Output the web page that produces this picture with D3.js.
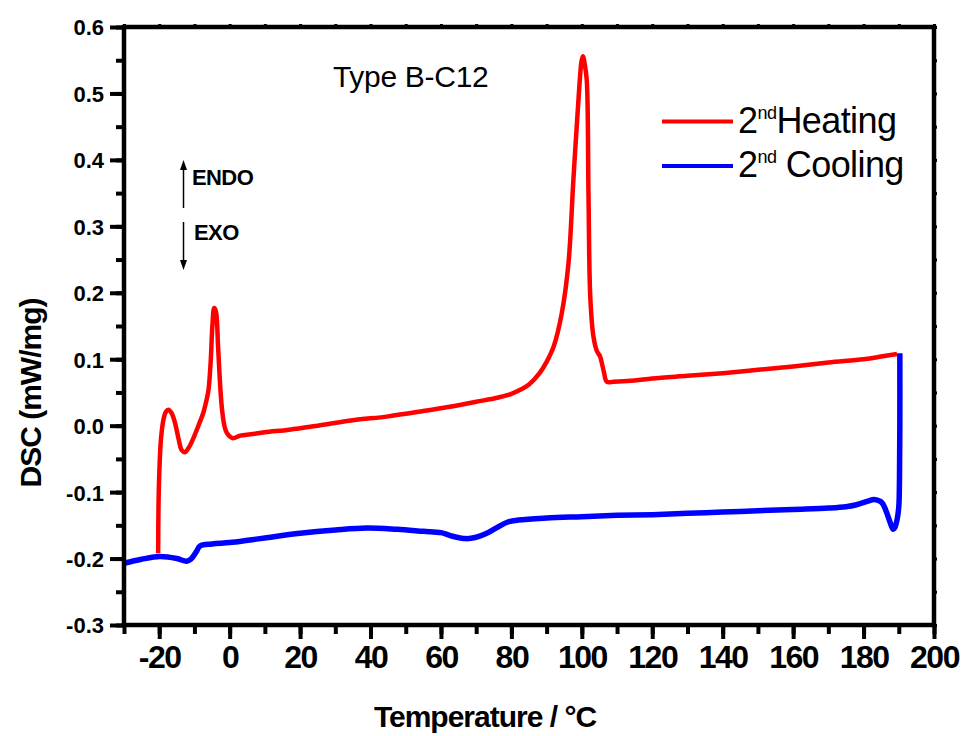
<!DOCTYPE html>
<html><head><meta charset="utf-8">
<script src="https://cdn.jsdelivr.net/npm/d3@7"></script>
<style>
html,body{margin:0;padding:0;background:#fff;}
svg{display:block;}
text{font-family:"Liberation Sans",Arial,sans-serif;}
</style></head>
<body>
<svg id="chart" width="965" height="736"></svg>
<script>
// ---- data ----
const xTicks = [-20, 0, 20, 40, 60, 80, 100, 120, 140, 160, 180, 200];
const xTickLabels = ["-20", "0", "20", "40", "60", "80", "100", "120", "140", "160", "180", "200"];
const yTicks = [-0.3, -0.2, -0.1, 0.0, 0.1, 0.2, 0.3, 0.4, 0.5, 0.6];
const yTickLabels = ["-0.3", "-0.2", "-0.1", "0.0", "0.1", "0.2", "0.3", "0.4", "0.5", "0.6"];
const seriesNames = ["Heating", "Cooling"];
const seriesColors = ["#ff0000", "#0000ff"];

// 2nd Heating: [temperature °C, DSC mW/mg]
const heating = [
  [-20.3,-0.192],[-20.2,-0.12],[-19.9,-0.06],[-19.5,-0.02],[-18.8,0.009],[-18.1,0.021],[-17.4,0.024],
  [-16.5,0.019],[-15.5,0.004],[-14.5,-0.02],[-13.6,-0.037],[-12.7,-0.040],[-11.5,-0.032],[-10,-0.015],
  [-8.5,0.005],[-7.5,0.019],[-6.5,0.040],[-6.0,0.054],[-5.4,0.095],[-4.9,0.150],[-4.4,0.177],[-3.9,0.172],
  [-3.3,0.12],[-2.8,0.07],[-2.25,0.029],[-1.5,0.000],[-0.8,-0.011],[0.2,-0.017],[1.0,-0.019],[3,-0.015],
  [6,-0.013],[10,-0.010],[17,-0.006],[25,0.000],[35,0.008],[45,0.014],[55,0.022],[62,0.028],[70,0.036],
  [76,0.042],[80,0.048],[82.5,0.054],[85,0.062],[88,0.079],[90,0.096],[92,0.119],[94.3,0.169],[96.2,0.244],
  [97.6,0.37],[99.1,0.495],[99.9,0.548],[100.3,0.556],[100.8,0.545],[101.4,0.52],[101.9,0.345],[102.4,0.194],
  [103.3,0.134],[104.3,0.112],[105.2,0.104],[105.7,0.094],[106.3,0.08],[107.1,0.066],[109,0.066],[115,0.068],
  [120,0.071],[130,0.075],[140,0.079],[150,0.084],[160,0.089],[170,0.095],[180,0.100],[185,0.104],[189.5,0.108]
];

// 2nd Cooling: [temperature °C, DSC mW/mg] in acquisition order (190 -> -30)
const cooling = [
  [190.3,0.109],[190.3,0.0],[190.2,-0.08],[190.0,-0.122],[189.5,-0.142],[188.9,-0.153],[188.4,-0.156],
  [187.5,-0.145],[186.5,-0.130],[185.5,-0.118],[184.8,-0.114],[183,-0.111],[181,-0.114],[178,-0.119],
  [175,-0.122],[170,-0.124],[160,-0.126],[150,-0.128],[140,-0.130],[130,-0.132],[120,-0.134],[110,-0.135],
  [100,-0.137],[90,-0.139],[82,-0.142],[79,-0.145],[76,-0.153],[73,-0.162],[70,-0.168],[67,-0.170],
  [63,-0.166],[60,-0.161],[55,-0.159],[47.5,-0.156],[39,-0.154],[30,-0.157],[20,-0.162],[10,-0.169],
  [5.8,-0.172],[0,-0.176],[-5,-0.178],[-8.4,-0.181],[-9.5,-0.190],[-11,-0.201],[-12.2,-0.204],[-15,-0.200],
  [-19.8,-0.197],[-25,-0.201],[-30,-0.207]
];

// ---- layout ----
const svg = d3.select("#chart");
const L = 124, T = 27, W = 810, H = 598;
const x = d3.scaleLinear().domain([-30, 200]).range([L, L + W]);
const y = d3.scaleLinear().domain([-0.3, 0.6]).range([T + H, T]);

const xMinor = d3.range(-30, 201, 10);
const yMinor = d3.range(-0.3, 0.6001, 0.05).map(v => +v.toFixed(3));

const g = svg.append("g");

// curves
const line = d3.line().x(d => x(d[0])).y(d => y(d[1])).curve(d3.curveCatmullRom.alpha(0.5));
g.append("path").datum(heating).attr("d", line)
  .attr("fill", "none").attr("stroke", seriesColors[0]).attr("stroke-width", 4.5).attr("stroke-linejoin", "round");
g.append("path").datum(cooling).attr("d", line)
  .attr("fill", "none").attr("stroke", seriesColors[1]).attr("stroke-width", 5.5).attr("stroke-linejoin", "round");

// axes
const axStyle = sel => { sel.select(".domain").remove(); sel.selectAll("line").attr("stroke", "#000").attr("stroke-width", 4); };

// bottom minor
svg.append("g").attr("transform", `translate(0,${T+H})`)
  .call(d3.axisBottom(x).tickValues(xMinor).tickSize(9).tickFormat(""))
  .call(axStyle);
// bottom major
const bx = svg.append("g").attr("transform", `translate(0,${T+H})`)
  .call(d3.axisBottom(x).tickValues(xTicks).tickSize(14).tickPadding(6).tickFormat((d, i) => xTickLabels[i]))
  .call(axStyle);
bx.selectAll("text").attr("font-size", 32).attr("font-weight", "bold").attr("fill", "#000")
  .attr("letter-spacing", "-1.5px").attr("dy", "0.72em");

// left minor
svg.append("g").attr("transform", `translate(${L},0)`)
  .call(d3.axisLeft(y).tickValues(yMinor).tickSize(8).tickFormat(""))
  .call(axStyle);
const ly = svg.append("g").attr("transform", `translate(${L},0)`)
  .call(d3.axisLeft(y).tickValues(yTicks).tickSize(14).tickPadding(6).tickFormat((d, i) => yTickLabels[i]))
  .call(axStyle);
ly.selectAll("text").attr("font-size", 22).attr("font-weight", "bold").attr("fill", "#000").attr("dy", "0.36em");

// top & right small ticks
svg.append("g").attr("transform", `translate(0,${T})`)
  .call(d3.axisTop(x).tickValues(xMinor).tickSize(3).tickFormat(""))
  .call(axStyle).selectAll("line").attr("stroke-width", 3);
svg.append("g").attr("transform", `translate(${L+W},0)`)
  .call(d3.axisRight(y).tickValues(yMinor).tickSize(3).tickFormat(""))
  .call(axStyle).selectAll("line").attr("stroke-width", 3);

// frame
svg.append("rect").attr("x", L).attr("y", T).attr("width", W).attr("height", H)
  .attr("fill", "none").attr("stroke", "#000").attr("stroke-width", 4.5);

// axis titles
svg.append("text").attr("x", 485).attr("y", 727).attr("text-anchor", "middle")
  .attr("font-size", 30).attr("font-weight", "bold").attr("letter-spacing", "-1px").text("Temperature / °C");
svg.append("text").attr("transform", "translate(41,393) rotate(-90)").attr("text-anchor", "middle")
  .attr("font-size", 30).attr("font-weight", "bold").attr("letter-spacing", "-1px").text("DSC (mW/mg)");

// annotation
svg.append("text").attr("x", 333).attr("y", 87).attr("font-size", 30).attr("letter-spacing", "-0.3px").text("Type B-C12");

// ENDO / EXO arrows
const ax = 183.5;
svg.append("line").attr("x1", ax).attr("x2", ax).attr("y1", 208).attr("y2", 168).attr("stroke", "#000").attr("stroke-width", 1.5);
svg.append("path").attr("d", `M${ax-3.5},${170} L${ax},${160} L${ax+3.5},${170} Z`).attr("fill", "#000");
svg.append("line").attr("x1", ax).attr("x2", ax).attr("y1", 222).attr("y2", 262).attr("stroke", "#000").attr("stroke-width", 1.5);
svg.append("path").attr("d", `M${ax-3.5},${260} L${ax},${270} L${ax+3.5},${260} Z`).attr("fill", "#000");
svg.append("text").attr("x", 192).attr("y", 185).attr("font-size", 22).attr("font-weight", "bold").attr("letter-spacing", "-0.6px").text("ENDO");
svg.append("text").attr("x", 194).attr("y", 240).attr("font-size", 22).attr("font-weight", "bold").attr("letter-spacing", "-0.6px").text("EXO");

// legend
const legY = [121.5, 166];
const legBase = [133, 176.5];
seriesNames.forEach((name, i) => {
  svg.append("line").attr("x1", 662).attr("x2", 733).attr("y1", legY[i]).attr("y2", legY[i])
    .attr("stroke", seriesColors[i]).attr("stroke-width", 4);
  const t = svg.append("text").attr("x", 738).attr("y", legBase[i]).attr("font-size", 36).attr("letter-spacing", "-0.6px");
  t.append("tspan").text("2");
  t.append("tspan").attr("font-size", 18).attr("dy", -14).attr("letter-spacing", "-0.5px").text("nd");
  t.append("tspan").attr("dy", 14).text((i === 1 ? " " : "") + name);
});
</script>
</body></html>
